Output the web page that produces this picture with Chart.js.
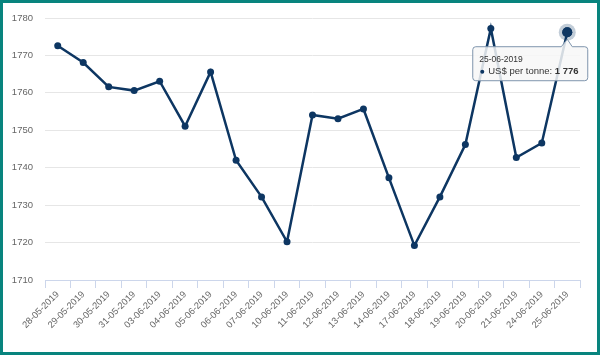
<!DOCTYPE html>
<html>
<head>
<meta charset="utf-8">
<script src="https://cdn.jsdelivr.net/npm/chart.js@4"></script>
<style>
  html, body { margin: 0; padding: 0; background: #fff; }
  #wrap { position: relative; width: 600px; height: 355px; }
  #frame { position: absolute; left: 0; top: 0; width: 600px; height: 355px; box-sizing: border-box; border: 3px solid #08847e; pointer-events: none; }
  canvas { position: absolute; left: 0; top: 0; }
</style>
</head>
<body>
<div id="wrap">
  <canvas id="c" width="600" height="355"></canvas>
  <div id="frame"></div>
</div>
<script>
const categories = ['28-05-2019','29-05-2019','30-05-2019','31-05-2019','03-06-2019','04-06-2019','05-06-2019','06-06-2019','07-06-2019','10-06-2019','11-06-2019','12-06-2019','13-06-2019','14-06-2019','17-06-2019','18-06-2019','19-06-2019','20-06-2019','21-06-2019','24-06-2019','25-06-2019'];
const seriesName = 'US$ per tonne';
const prices = [1772.6,1768.1,1761.6,1760.6,1763.1,1751.1,1765.6,1742.0,1732.2,1720.2,1754.1,1753.1,1755.7,1737.3,1719.2,1732.2,1746.2,1777.2,1742.7,1746.6,1776.2];
const yTicks = [1710,1720,1730,1740,1750,1760,1770,1780];
const hoverIndex = prices.length - 1;

const lineColor = '#0d3662';
const font = 'Arial, "Liberation Sans", sans-serif';

function fmt(v) {
  return String(Math.round(v)).replace(/\B(?=(\d{3})+(?!\d))/g, ' ');
}

const tipPlugin = {
  id: 'tip',
  afterDatasetsDraw(chart) {
    const meta = chart.getDatasetMeta(0);
    const pt = meta.data[hoverIndex];
    const ctx = chart.ctx;
    ctx.save();
    ctx.beginPath();
    ctx.arc(pt.x, pt.y, 8.5, 0, Math.PI * 2);
    ctx.fillStyle = 'rgba(13,54,98,0.25)';
    ctx.fill();
    ctx.restore();
    pt.draw(ctx);
  },
  afterDraw(chart) {
    const meta = chart.getDatasetMeta(0);
    const pt = meta.data[hoverIndex];
    const px = pt.x, py = pt.y;
    const ctx = chart.ctx;
    const x0 = px - 94.5, x1 = px + 20.5, y0 = py + 14.5, y1 = py + 48.5;
    const r = 3;
    ctx.save();
    ctx.beginPath();
    ctx.moveTo(x0 + r, y0);
    ctx.lineTo(px - 6, y0);
    ctx.lineTo(px, py + 7);
    ctx.lineTo(px + 5, y0);
    ctx.lineTo(x1 - r, y0);
    ctx.arcTo(x1, y0, x1, y0 + r, r);
    ctx.lineTo(x1, y1 - r);
    ctx.arcTo(x1, y1, x1 - r, y1, r);
    ctx.lineTo(x0 + r, y1);
    ctx.arcTo(x0, y1, x0, y1 - r, r);
    ctx.lineTo(x0, y0 + r);
    ctx.arcTo(x0, y0, x0 + r, y0, r);
    ctx.closePath();
    ctx.fillStyle = 'rgba(247,247,247,0.85)';
    ctx.fill();
    ctx.lineWidth = 1;
    ctx.strokeStyle = '#7f95ad';
    ctx.stroke();

    ctx.textBaseline = 'middle';
    ctx.textAlign = 'left';
    ctx.fillStyle = '#333333';
    ctx.font = '8.5px ' + font;
    ctx.fillText(categories[hoverIndex], px - 88, py + 27);

    ctx.beginPath();
    ctx.arc(px - 85, py + 39.5, 2, 0, Math.PI * 2);
    ctx.fillStyle = lineColor;
    ctx.fill();

    ctx.fillStyle = '#333333';
    ctx.font = '9.5px ' + font;
    const label = seriesName + ': ';
    ctx.fillText(label, px - 79, py + 39.5);
    const w = ctx.measureText(label).width;
    ctx.font = 'bold 9.5px ' + font;
    ctx.fillText(fmt(prices[hoverIndex]), px - 79 + w, py + 39.5);
    ctx.restore();
  }
};

new Chart(document.getElementById('c'), {
  type: 'line',
  data: {
    labels: categories,
    datasets: [{
      label: seriesName,
      data: prices,
      borderColor: lineColor,
      backgroundColor: lineColor,
      borderWidth: 2.5,
      pointRadius: prices.map((v, i) => i === hoverIndex ? 5 : 3.5),
      pointBackgroundColor: lineColor,
      pointBorderWidth: 0,
      tension: 0,
      fill: false
    }]
  },
  options: {
    responsive: false,
    animation: false,
    events: [],
    layout: { padding: { left: 0, right: 20, top: 18, bottom: 0 } },
    plugins: { legend: { display: false }, tooltip: { enabled: false } },
    scales: {
      x: {
        type: 'category',
        offset: true,
        grid: {
          offset: true,
          drawOnChartArea: false,
          drawTicks: true,
          tickLength: 8,
          color: '#ccd6eb'
        },
        border: { display: true, color: '#ccd6eb', width: 1 },
        ticks: {
          autoSkip: false,
          minRotation: 45,
          maxRotation: 45,
          padding: 1,
          color: '#666666',
          font: { family: font, size: 9.3 }
        },
        afterFit(scale) { scale.height = 75; scale.paddingLeft = 0; scale.paddingRight = 0; }
      },
      y: {
        min: 1710,
        max: 1780,
        afterBuildTicks(scale) { scale.ticks = yTicks.map(v => ({ value: v })); },
        grid: { color: '#e6e6e6', drawTicks: false, lineWidth: 1 },
        border: { display: false },
        ticks: {
          padding: 12,
          color: '#666666',
          font: { family: font, size: 9.5 },
          callback: (v) => String(v)
        },
        afterFit(scale) { scale.width = 45; scale.paddingTop = 0; scale.paddingBottom = 0; }
      }
    }
  },
  plugins: [tipPlugin]
});
</script>
</body>
</html>
